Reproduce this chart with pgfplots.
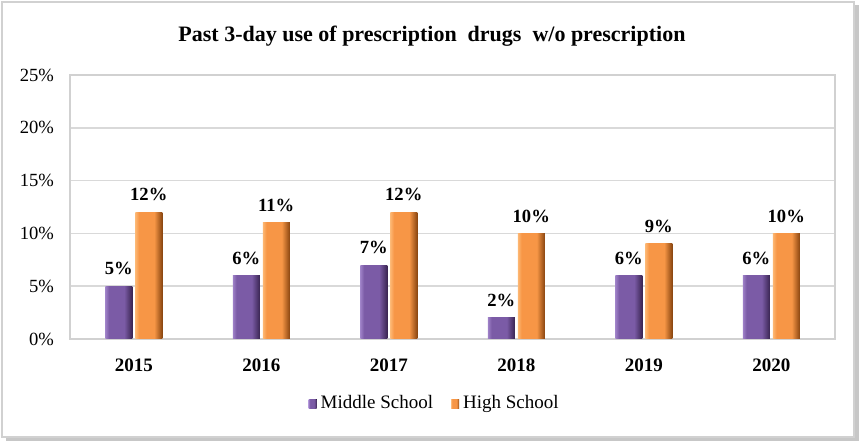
\documentclass[border=0pt]{standalone}
\usepackage{fontspec}
\setmainfont{Liberation Serif}
\usepackage{pgfplots}
\pgfplotsset{compat=1.18}
\definecolor{msL}{HTML}{9F82C8}
\definecolor{msM}{HTML}{7B5BA6}
\definecolor{msD}{HTML}{3A2552}
\definecolor{hsL}{HTML}{FDB874}
\definecolor{hsM}{HTML}{F79646}
\definecolor{hsD}{HTML}{8A4610}
\pgfdeclarehorizontalshading{msbar}{100bp}{color(0bp)=(msL); color(25bp)=(msL); color(32bp)=(msM); color(60bp)=(msM); color(75bp)=(msD); color(100bp)=(msD)}
\pgfdeclarehorizontalshading{hsbar}{100bp}{color(0bp)=(hsL); color(25bp)=(hsL); color(32bp)=(hsM); color(60bp)=(hsM); color(75bp)=(hsD); color(100bp)=(hsD)}
\pgfplotsset{
  ms/.style={draw=none, shading=msbar, shading angle=0, bar shift=-7.5pt, forget plot},
  hs/.style={draw=none, shading=hsbar, shading angle=0, bar shift=7.5pt, forget plot},
}
\begin{document}
\begin{tikzpicture}
\path[use as bounding box] (0,0) rectangle (431pt,221pt);
\fill[black!22] (3pt,0.3pt) rectangle (429.5pt,218.3pt);
\draw[fill=white, draw=black!18, line width=0.8pt] (1pt,2.5pt) rectangle (427pt,220pt);
\node[font=\bfseries\fontsize{11}{13}\selectfont] at (216pt,203pt) {Past 3-day use of prescription\ \ drugs\ \ w/o prescription};
\begin{axis}[at={(35pt,51.5pt)}, anchor=south west, scale only axis,
  width=382.5pt, height=132pt,
  /pgf/number format/assume math mode=true,
  ybar, bar width=13.5pt,
  xmin=-0.5, xmax=5.5, ymin=0, ymax=25,
  xtick={0,...,5}, xticklabels={2015,2016,2017,2018,2019,2020},
  xticklabel style={font=\bfseries\fontsize{9.5}{11}\selectfont, yshift=-2pt},
  ytick={0,5,...,25},
  yticklabel={\pgfmathprintnumber{\tick}\%},
  yticklabel style={font=\fontsize{9.3}{11}\selectfont, xshift=-4.5pt},
  ymajorgrids, grid style={black!15, line width=0.8pt},
  axis line style={black!18, line width=0.8pt},
  tick style={draw=none},
  nodes near coords={\pgfmathprintnumber{\pgfplotspointmeta}\%},
  nodes near coords style={font=\bfseries\fontsize{9.3}{11}\selectfont, black, yshift=2pt},
  legend columns=2,
  legend style={at={(0.478,-0.245)}, anchor=center, draw=none, font=\fontsize{9.5}{11}\selectfont,
    /tikz/every even column/.append style={column sep=7pt}},
  legend image code/.code={\fill[#1] (2pt,-2.2pt) rectangle (6pt,2.2pt);},
]
\addplot[ms] coordinates {(0,5)};
\addplot[ms] coordinates {(1,6)};
\addplot[ms] coordinates {(2,7)};
\addplot[ms] coordinates {(3,2)};
\addplot[ms] coordinates {(4,6)};
\addplot[ms] coordinates {(5,6)};
\addplot[hs] coordinates {(0,12)};
\addplot[hs] coordinates {(1,11)};
\addplot[hs] coordinates {(2,12)};
\addplot[hs] coordinates {(3,10)};
\addplot[hs] coordinates {(4,9)};
\addplot[hs] coordinates {(5,10)};
\addlegendimage{draw=none, shading=msbar, shading angle=0}
\addlegendentry{Middle School}
\addlegendimage{draw=none, shading=hsbar, shading angle=0}
\addlegendentry{High School}
\end{axis}
\end{tikzpicture}
\end{document}
